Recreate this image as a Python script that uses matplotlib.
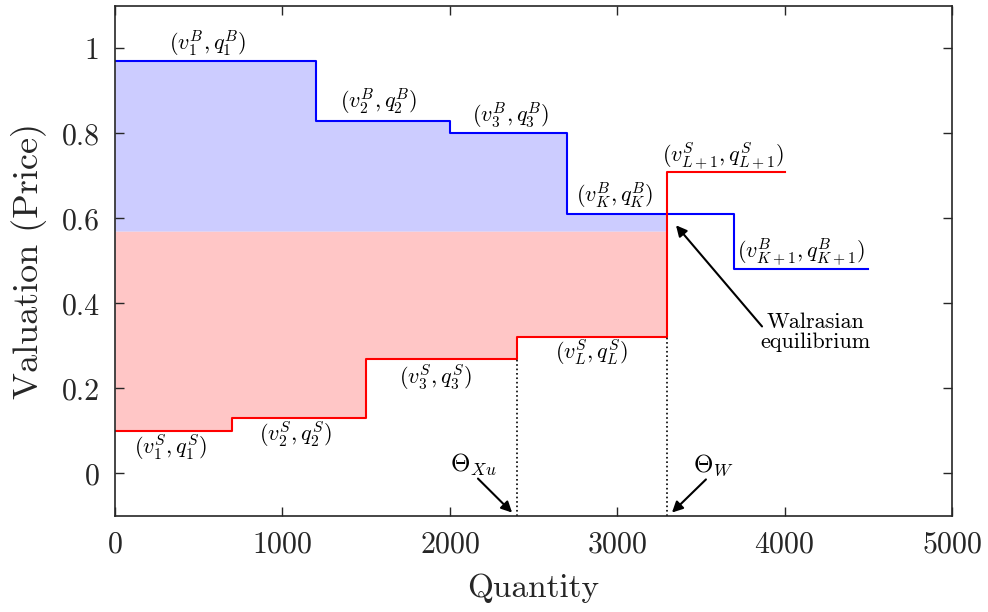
import numpy as np
import matplotlib
matplotlib.use('Agg')
import matplotlib.pyplot as plt

plt.rcParams['font.family'] = 'serif'
plt.rcParams['font.serif'] = ['cmr10']
plt.rcParams['mathtext.fontset'] = 'cm'
plt.rcParams['axes.formatter.use_mathtext'] = True

# Buyer (demand) steps: quantity breakpoints and valuations
buy_q = [0, 1200, 2000, 2700, 3700, 4500]
buy_v = [0.97, 0.83, 0.80, 0.61, 0.48]
# Seller (supply) steps
sell_q = [0, 700, 1500, 2400, 3300, 4000]
sell_v = [0.10, 0.13, 0.27, 0.32, 0.71]

# Equilibrium
eq_q = 3300
eq_p = 0.57
xu_q = 2400

buy_labels = [r'$(v_1^B,q_1^B)$', r'$(v_2^B,q_2^B)$', r'$(v_3^B,q_3^B)$',
              r'$(v_K^B,q_K^B)$', r'$(v_{K+1}^B,q_{K+1}^B)$']
buy_label_pos = [(550, 1.01), (1575, 0.873), (2365, 0.84), (2982, 0.654), (4100, 0.52)]
sell_labels = [r'$(v_1^S,q_1^S)$', r'$(v_2^S,q_2^S)$', r'$(v_3^S,q_3^S)$',
               r'$(v_L^S,q_L^S)$', r'$(v_{L+1}^S,q_{L+1}^S)$']
sell_label_pos = [(330, 0.061), (1078, 0.092), (1916, 0.226), (2844, 0.285), (3635, 0.746)]

fig = plt.figure(figsize=(9.88, 6.12), dpi=100)
ax = fig.add_axes([0.1164, 0.1569, 0.8472, 0.8333])

bx = np.array(buy_q, dtype=float)
by = np.array(buy_v + [buy_v[-1]])
sx = np.array(sell_q, dtype=float)
sy = np.array(sell_v + [sell_v[-1]])

# surplus areas up to the equilibrium quantity
xf = np.linspace(0, eq_q, 3301)
buy_f = by[np.searchsorted(bx, xf, side='right') - 1]
sell_f = sy[np.searchsorted(sx, xf, side='right') - 1]
ax.fill_between(xf, eq_p, buy_f, color='#ccccff', lw=0)
ax.fill_between(xf, sell_f, eq_p, color='#ffc6c6', lw=0)

ax.step(bx, by, where='post', color='#0000ff', lw=1.5)
ax.step(sx, sy, where='post', color='#ff0000', lw=1.5)

ax.vlines(xu_q, -0.1, sell_v[2], colors='k', linestyles=':', lw=1.2)
ax.vlines(eq_q, -0.1, sell_v[3], colors='k', linestyles=':', lw=1.2)

for lab, (x, y) in zip(buy_labels + sell_labels, buy_label_pos + sell_label_pos):
    ax.text(x, y, lab, ha='center', va='center', fontsize=16)

arrow = dict(arrowstyle='-|>', color='k', lw=1.5, mutation_scale=16,
             shrinkA=0, shrinkB=0)
ax.annotate('', xy=(3351, 0.584), xytext=(3865, 0.346), arrowprops=arrow)
ax.text(4182, 0.332, 'Walrasian\nequilibrium', ha='center', va='center',
        fontsize=16, linespacing=1.0)

ax.annotate('', xy=(2372, -0.092), xytext=(2168, -0.012), arrowprops=arrow)
ax.text(2001, 0.005, r'$\Theta_{Xu}$', ha='left', va='baseline', fontsize=18)
ax.annotate('', xy=(3327, -0.092), xytext=(3530, -0.014), arrowprops=arrow)
ax.text(3453, 0.005, r'$\Theta_W$', ha='left', va='baseline', fontsize=18)

ax.set_xlim(0, 5000)
ax.set_ylim(-0.1, 1.1)
ax.set_xticks(np.arange(0, 5001, 1000))
ax.set_yticks([0, 0.2, 0.4, 0.6, 0.8, 1.0])
ax.set_yticklabels(['0', '0.2', '0.4', '0.6', '0.8', '1'])
ax.tick_params(direction='in', top=True, right=True, length=6.5, width=1,
               labelsize=21.5, colors='#262626', labelcolor='#262626', pad=11)
for s in ax.spines.values():
    s.set_color('#262626')
    s.set_linewidth(1.2)

ax.set_xlabel('Quantity', fontsize=24, color='#262626', va='baseline')
ax.xaxis.set_label_coords(0.5, -0.159)
ax.set_ylabel('Valuation (Price)', fontsize=26, color='#262626', va='center')
ax.yaxis.set_label_coords(-0.103, 0.5)

fig.savefig('out.png', dpi=100)
